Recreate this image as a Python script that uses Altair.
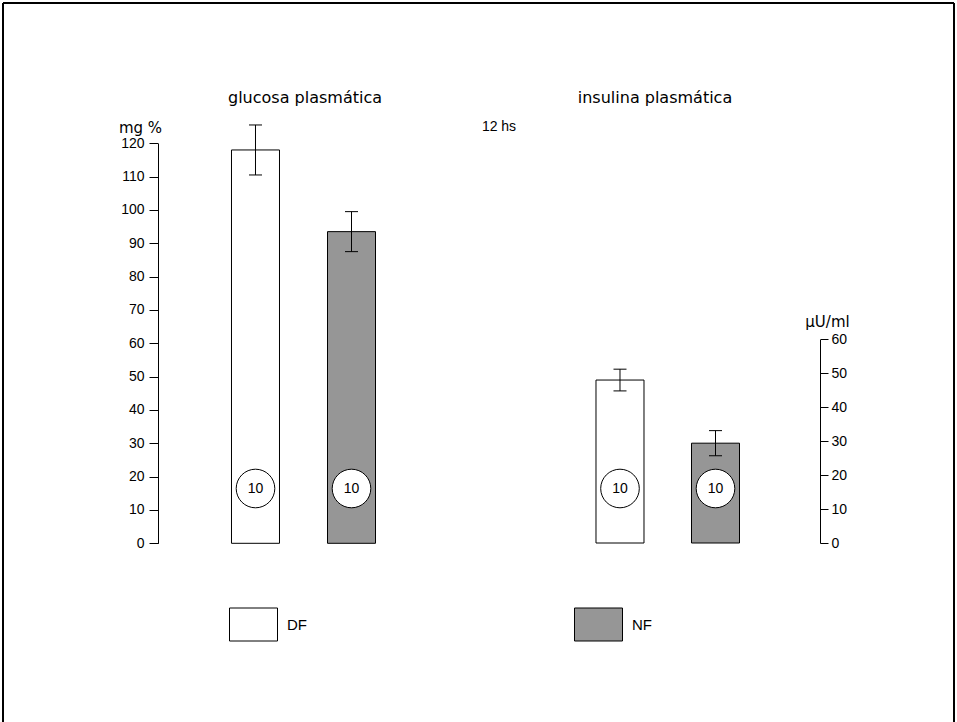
import altair as alt
import pandas as pd

# ---- data ----
groups = ["DF", "NF"]
glucose_mean = [118.0, 93.5]      # mg %
glucose_err = [7.5, 6.0]
insulin_mean = [48.0, 29.4]       # µU/ml
insulin_err = [3.2, 3.7]
n_obs = [10, 10]
glucose_ticks = [0, 10, 20, 30, 40, 50, 60, 70, 80, 90, 100, 110, 120]
insulin_ticks = [0, 10, 20, 30, 40, 50, 60]

FONT = "Liberation Sans"
WIDE = "DejaVu Sans"
GRAY = "#969696"

fill_enc = alt.Fill(
    "group:N",
    scale=alt.Scale(domain=groups, range=["white", GRAY]),
    legend=alt.Legend(
        orient="none", legendX=229, legendY=600, direction="horizontal",
        columns=2, columnPadding=265, title=None, padding=0,
        symbolType="M-1,-0.6875L1,-0.6875L1,0.6875L-1,0.6875Z",
        symbolSize=2304, symbolStrokeColor="black", symbolStrokeWidth=1,
        symbolOpacity=1, labelFontSize=15, labelOffset=9, labelFont=FONT,
        labelColor="black",
    ),
)


def panel(mean, err, xscale, yscale, yaxis):
    df = pd.DataFrame({
        "group": groups,
        "mean": mean,
        "lo": [m - e for m, e in zip(mean, err)],
        "hi": [m + e for m, e in zip(mean, err)],
        "n": n_obs,
    })
    base = alt.Chart(df)
    x = alt.X("group:N", scale=xscale, axis=None, sort=groups)
    bars = base.mark_bar(stroke="black", strokeWidth=1, opacity=1).encode(
        x=x, y=alt.Y("mean:Q", scale=yscale, axis=yaxis), fill=fill_enc
    )
    rule = base.mark_rule(color="black", strokeWidth=1).encode(
        x=x, y=alt.Y("lo:Q"), y2="hi:Q"
    )
    cap_lo = base.mark_tick(color="black", size=13, thickness=1, orient="horizontal", opacity=1).encode(
        x=x, y="lo:Q"
    )
    cap_hi = base.mark_tick(color="black", size=13, thickness=1, orient="horizontal", opacity=1).encode(
        x=x, y="hi:Q"
    )
    circ = base.mark_point(shape="circle", size=1490, filled=False, fill="white",
                           fillOpacity=1, stroke="black", strokeWidth=1, opacity=1).encode(
        x=x, y=alt.value(488.5)
    )
    txt = base.mark_text(font=FONT, fontSize=14, color="black", baseline="middle").encode(
        x=x, y=alt.value(489), text="n:Q"
    )
    return alt.layer(bars, rule, cap_lo, cap_hi, circ, txt)


axis_common = dict(
    grid=False, domainColor="black", tickColor="black", labelColor="black",
    labelFont=FONT, labelFontSize=14, titleFont=WIDE, titleFontSize=15,
    titleColor="black", titleFontWeight="normal", titleAngle=0,
    titleAlign="center", titleBaseline="middle", domainWidth=1, tickWidth=1,
)

glucose = panel(
    glucose_mean, glucose_err,
    alt.Scale(domain=groups, range=[158, 449], paddingInner=0.5, paddingOuter=0.7656),
    alt.Scale(domain=[0, 120], range=[543.3, 143.3], nice=False),
    alt.Axis(orient="left", offset=-158, values=glucose_ticks, tickSize=9,
             labelPadding=5, title="mg %", titleX=-18, titleY=127, **axis_common),
)

insulin = panel(
    insulin_mean, insulin_err,
    alt.Scale(domain=groups, range=[515.5, 820], paddingInner=0.4974, paddingOuter=0.8429),
    alt.Scale(domain=[0, 60], range=[543, 339.3], nice=False),
    alt.Axis(orient="right", offset=-137, values=insulin_ticks, tickSize=8,
             labelPadding=3, title="µU/ml", titleX=7, titleY=321.5, **axis_common),
)

one = pd.DataFrame({"k": [0]})
frame_top = alt.Chart(one).mark_rule(color="black", strokeWidth=2).encode(
    x=alt.value(3), x2=alt.value(954), y=alt.value(3))
frame_left = alt.Chart(one).mark_rule(color="black", strokeWidth=2).encode(
    x=alt.value(3), y=alt.value(3), y2=alt.value(722))
frame_right = alt.Chart(one).mark_rule(color="black", strokeWidth=2).encode(
    x=alt.value(954), y=alt.value(3), y2=alt.value(722))


def label(text, x, y, size, font):
    return alt.Chart(one).mark_text(font=font, fontSize=size, color="black",
                                    align="center", baseline="middle").encode(
        x=alt.value(x), y=alt.value(y), text=alt.value(text))


t1 = label("glucosa plasmática", 305, 98, 16, WIDE)
t2 = label("insulina plasmática", 655, 98, 16, WIDE)
t3 = label("12 hs", 499, 127, 14, FONT)

chart = alt.layer(
    glucose, insulin, frame_top, frame_left, frame_right, t1, t2, t3
).resolve_scale(
    x="independent", y="independent"
).properties(
    width=957, height=722,
    autosize=alt.AutoSizeParams(type="none"),
    padding=0,
    background="white",
).configure_view(stroke=None)

chart.save("out.html", embed_options={"renderer": "svg", "actions": False})
